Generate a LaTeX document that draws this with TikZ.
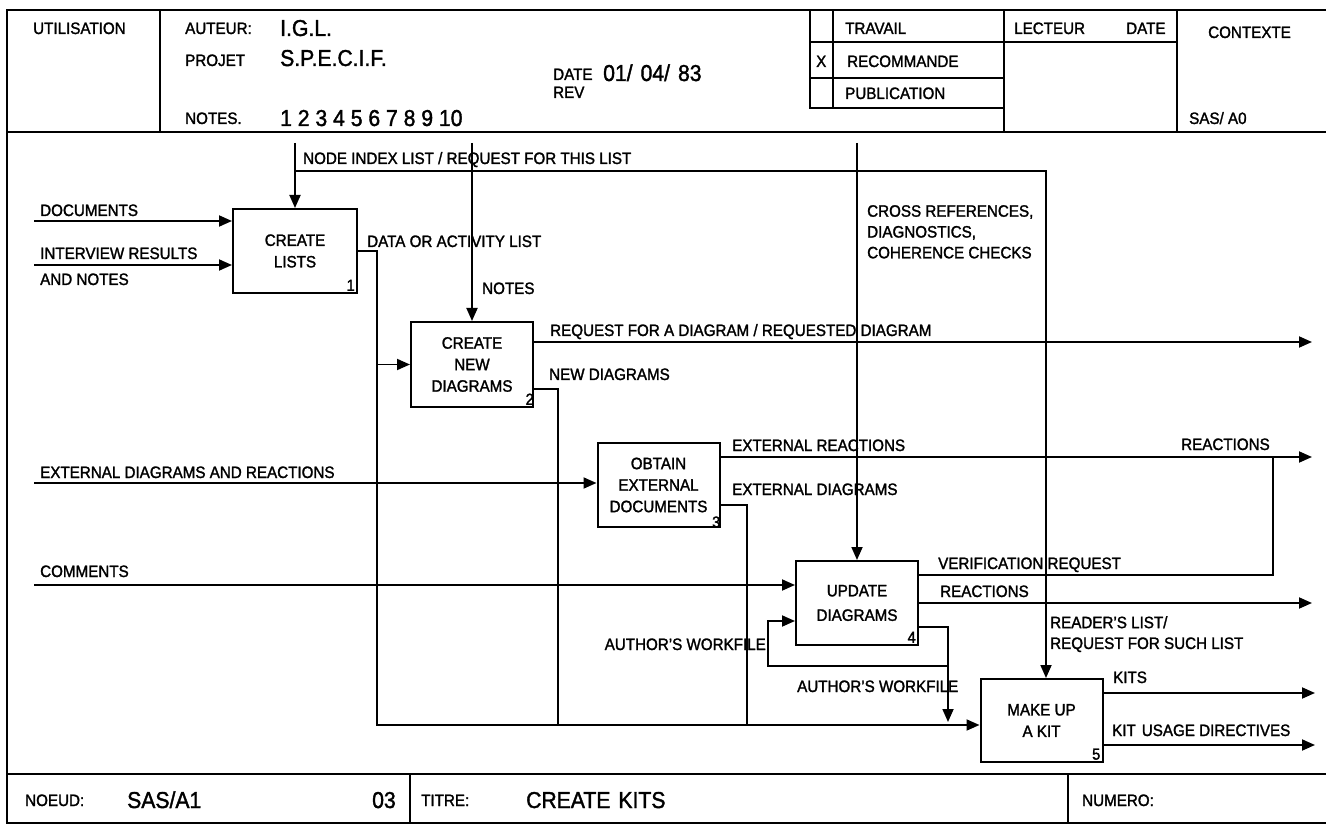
\documentclass[tikz,border=0pt]{standalone}
\usepackage{fontspec}
\setmainfont{Liberation Sans}[FakeStretch=0.92, FakeBold=1.6]
\usetikzlibrary{arrows.meta, positioning}
\tikzset{
    % SADT activity boxes
    activity box/.style={draw, line width=2pt, minimum width=122pt, minimum height=84pt,
        align=center, inner sep=0pt, font=\fontsize{16.5}{21.5}\selectfont},
    % Number in the lower right corner of a box
    box number/.style={anchor=south east, inner sep=3pt, font=\fontsize{16}{16}\selectfont},
    % Connectors - plain and with arrow
    flow line/.style={line width=1.8pt},
    flow arrow/.style={line width=1.8pt, -{Triangle[length=13pt, width=11pt]}},
    % Form frame
    sheet line/.style={line width=1.8pt},
    % Texts
    flow label/.style={anchor=base west, inner sep=0pt, font=\fontsize{16.5}{18}\selectfont},
    flow note/.style={anchor=north west, inner sep=0pt, align=left, font=\fontsize{16.5}{20.8}\selectfont},
    sheet label/.style={anchor=base west, inner sep=0pt, font=\fontsize{16.5}{18}\selectfont},
    sheet value/.style={anchor=base west, inner sep=0pt, font=\fontsize{23}{24}\selectfont}
}

\begin{document}
\begin{tikzpicture}[x=1pt, y=-1pt]
    \useasboundingbox (0,0) rectangle (1326,826);

    % --- Form frame ---
    \draw[sheet line] (1326,10) -- (7,10) -- (7,823) -- (1326,823);
    \draw[sheet line] (7,132) -- (1326,132);
    \draw[sheet line] (7,774) -- (1326,774);
    \draw[sheet line] (160,10) -- (160,132);
    \draw[sheet line] (810,10) -- (810,108) -- (1004,108);
    \draw[sheet line] (833,10) -- (833,108);
    \draw[sheet line] (810,42) -- (1177,42);
    \draw[sheet line] (810,78) -- (1004,78);
    \draw[sheet line] (1004,10) -- (1004,132);
    \draw[sheet line] (1177,10) -- (1177,132);
    \draw[sheet line] (410,774) -- (410,823);
    \draw[sheet line] (1068,774) -- (1068,823);

    % --- Header texts ---
    \node[sheet label] (use) at (33,34) {UTILISATION};
    \node[sheet label] (author) at (185,34) {AUTEUR:};
    \node[sheet value] (authorval) at (280,36) {I.G.L.};
    \node[sheet label] (project) at (185,66) {PROJET};
    \node[sheet value] (projectval) at (280,66) {S.P.E.C.I.F.};
    \node[sheet label] (notes) at (185,124) {NOTES.};
    \node[sheet value] (notesval) at (280,126) {1 2 3 4 5 6 7 8 9 10};
    \node[sheet label] (date) at (553,80) {DATE};
    \node[sheet value] (dateval) at (603,81) {01/\hspace{8pt}04/\hspace{8pt}83};
    \node[sheet label] (rev) at (553,98) {REV};
    \node[sheet label] (work) at (845,34) {TRAVAIL};
    \node[sheet label] (mark) at (816,67) {X};
    \node[sheet label] (recom) at (847,67) {RECOMMANDE};
    \node[sheet label] (publi) at (845,99) {PUBLICATION};
    \node[sheet label] (reader) at (1014,34) {LECTEUR};
    \node[sheet label] (rdate) at (1126,34) {DATE};
    \node[sheet label] (context) at (1208,38) {CONTEXTE};
    \node[sheet label] (contextval) at (1189,124) {SAS/ A0};

    % --- Footer texts ---
    \node[sheet label] (noeud) at (25,806) {NOEUD:};
    \node[sheet value] (noeudval) at (127,808) {SAS/A1};
    \node[sheet value] (page) at (372,808) {03};
    \node[sheet label] (titre) at (421,806) {TITRE:};
    \node[sheet value] (titreval) at (526,808) {CREATE\hspace{8pt}KITS};
    \node[sheet label] (numero) at (1082,806) {NUMERO:};

    % --- Activity boxes ---
    \node[activity box, minimum width=124pt] (B1) at (295,251) {CREATE\\LISTS};
    \node[activity box, minimum height=85pt] (B2) at (472,364.5) {CREATE\\NEW\\DIAGRAMS};
    \node[activity box] (B3) at (658.5,485) {OBTAIN\\EXTERNAL\\DOCUMENTS};
    \node[activity box] (B4) at (857,603) {UPDATE\\[3pt]DIAGRAMS};
    \node[activity box, minimum height=83pt] (B5) at (1041.5,720.5) {MAKE UP\\A KIT};
    \node[box number] at (B1.south east) {1};
    \node[box number, xshift=3pt] at (B2.south east) {2};
    \node[box number, xshift=3pt, yshift=-3pt] at (B3.south east) {3};
    \node[box number] at (B4.south east) {4};
    \node[box number] at (B5.south east) {5};

    % --- Connector ends and bends ---
    \coordinate (docin) at (34,221);
    \coordinate (intin) at (34,265);
    \coordinate (extin) at (34,483);
    \coordinate (comin) at (34,585);
    \coordinate (nodeidx) at (295,143);
    \coordinate (notesin) at (472,143);
    \coordinate (crossin) at (857,143);
    \coordinate (readerjn) at (1046,171);
    \coordinate (datajn) at (377,251);
    \coordinate (bus) at (377,725);
    \coordinate (reqout) at (1312,342);
    \coordinate (newdjn) at (558,389);
    \coordinate (reacout) at (1312,457);
    \coordinate (extdjn) at (747,505);
    \coordinate (verifjn) at (1273,575);
    \coordinate (reac2out) at (1312,603);
    \coordinate (workjn) at (948,627);
    \coordinate (workend) at (948,722);
    \coordinate (loopjn) at (948,666);
    \coordinate (loopleft) at (768,666);
    \coordinate (loopin) at (768,621);
    \coordinate (kitsout) at (1315,693);
    \coordinate (dirout) at (1315,745);

    % --- Inputs ---
    \draw[flow arrow] (docin) -- (docin -| B1.west);
    \draw[flow arrow] (intin) -- (intin -| B1.west);
    \draw[flow arrow] (extin) -- (extin -| B3.west);
    \draw[flow arrow] (comin) -- (comin -| B4.west);

    % --- Controls ---
    \draw[flow arrow] (nodeidx) -- (B1.north);
    \draw[flow arrow] (nodeidx |- readerjn) -- (readerjn) -- (readerjn |- B5.north);
    \draw[flow arrow] (notesin) -- (B2.north);
    \draw[flow arrow] (crossin) -- (B4.north);

    % --- Outputs ---
    \draw[flow arrow] (B1.east) -- (datajn) -- (bus) -- (bus -| B5.west);
    \draw[flow arrow] (datajn |- B2.west) -- (B2.west);
    \draw[flow arrow] (reqout -| B2.east) -- (reqout);
    \draw[flow line] (newdjn -| B2.east) -- (newdjn) -- (newdjn |- bus);
    \draw[flow arrow] (reacout -| B3.east) -- (reacout);
    \draw[flow line] (extdjn -| B3.east) -- (extdjn) -- (extdjn |- bus);
    \draw[flow line] (verifjn -| B4.east) -- (verifjn) -- (verifjn |- reacout);
    \draw[flow arrow] (B4.east) -- (reac2out);
    \draw[flow arrow] (workjn -| B4.east) -- (workjn) -- (workend);
    \draw[flow arrow] (loopjn) -- (loopleft) -- (loopin) -- (loopin -| B4.west);
    \draw[flow arrow] (kitsout -| B5.east) -- (kitsout);
    \draw[flow arrow] (dirout -| B5.east) -- (dirout);

    % --- Connector labels ---
    \node[flow label] (l-docs) at (40,216) {DOCUMENTS};
    \node[flow label] (l-int) at (40,259) {INTERVIEW RESULTS};
    \node[flow label] (l-intb) at (40,285) {AND NOTES};
    \node[flow label] (l-ext) at (40,478) {EXTERNAL DIAGRAMS AND REACTIONS};
    \node[flow label] (l-com) at (40,577) {COMMENTS};
    \node[flow label] (l-idx) at (303,164) {NODE INDEX LIST / REQUEST FOR THIS LIST};
    \node[flow label] (l-data) at (367,247) {DATA OR ACTIVITY LIST};
    \node[flow label] (l-notes) at (482,294) {NOTES};
    \node[flow label] (l-req) at (550,336) {REQUEST FOR A DIAGRAM / REQUESTED DIAGRAM};
    \node[flow label] (l-newd) at (549,380) {NEW DIAGRAMS};
    \node[flow note] (l-cross) at (867,205) {CROSS REFERENCES,\\DIAGNOSTICS,\\COHERENCE CHECKS};
    \node[flow label] (l-extr) at (732,451) {EXTERNAL REACTIONS};
    \node[flow label] (l-reac) at (1181,450) {REACTIONS};
    \node[flow label] (l-extd) at (732,495) {EXTERNAL DIAGRAMS};
    \node[flow label] (l-verif) at (938,569) {VERIFICATION REQUEST};
    \node[flow label] (l-reac2) at (940,597) {REACTIONS};
    \node[flow label, anchor=base east] (l-work) at (766,650) {AUTHOR'S WORKFILE};
    \node[flow label] (l-work2) at (797,692) {AUTHOR'S WORKFILE};
    \node[flow note] (l-readers) at (1050,616) {READER'S LIST/\\REQUEST FOR SUCH LIST};
    \node[flow label] (l-kits) at (1113,683) {KITS};
    \node[flow label] (l-dir) at (1112,736) {KIT\hspace{6pt}USAGE DIRECTIVES};
\end{tikzpicture}
\end{document}
